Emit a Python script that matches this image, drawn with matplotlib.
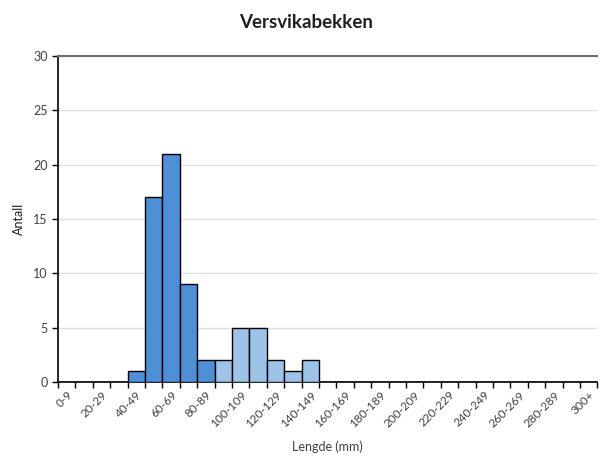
import matplotlib.pyplot as plt
import numpy as np

plt.rcParams['font.family'] = ['Lato', 'DejaVu Sans']

# lengdegrupper 0-9 ... 290-299, 300+
kategorier = ['%d-%d' % (i, i + 9) for i in range(0, 300, 10)] + ['300+']
antall = [0, 0, 0, 0, 1, 17, 21, 9, 2, 2, 5, 5, 2, 1, 2] + [0] * 16
mork_til = 9  # de ni forste gruppene (t.o.m. 80-89) er morke
farger = ['#4f8fd6'] * mork_til + ['#9dc3e9'] * (len(kategorier) - mork_til)

fig = plt.figure(figsize=(6, 4.66), dpi=100)
ax = fig.add_axes([0.0967, 0.18, 0.899, 0.70])

x = np.arange(len(kategorier))
ax.bar(x, antall, width=1.0, color=farger, edgecolor='black', linewidth=1.0, zorder=3)

ax.set_xlim(-0.5, len(kategorier) - 0.5)
ax.set_ylim(0, 30)
ax.set_yticks(range(0, 31, 5))
ax.yaxis.grid(True, color='#e0e0e0', linewidth=1.0, zorder=0)

# ticks mellom stolpene, etiketter for annenhver gruppe
ax.set_xticks(np.arange(-0.5, len(kategorier), 1.0))
ax.tick_params(axis='x', which='major', length=4, width=1, labelbottom=False, color='black')
ax.set_xticks(x[::2], minor=True)
ax.set_xticklabels(kategorier[::2], minor=True, rotation=45, ha='right',
                   rotation_mode='anchor', fontsize=8.5, color='#404040')
ax.tick_params(axis='x', which='minor', length=0, pad=5)
ax.tick_params(axis='y', length=4, width=1, labelsize=9, labelcolor='#404040')

for s in ['left', 'bottom']:
    ax.spines[s].set_color('black')
    ax.spines[s].set_linewidth(1.2)
ax.spines['top'].set_color('#707070')
ax.spines['top'].set_linewidth(1.5)
ax.spines['right'].set_visible(False)

ax.set_ylabel('Antall', fontsize=9, color='#202020', labelpad=6)
ax.set_xlabel('Lengde (mm)', fontsize=9, color='#404040', labelpad=8)
fig.text(0.51, 0.952, 'Versvikabekken', ha='center', va='center',
         fontsize=13.5, fontweight='bold', color='#202020')

fig.savefig('out.png', dpi=100)
